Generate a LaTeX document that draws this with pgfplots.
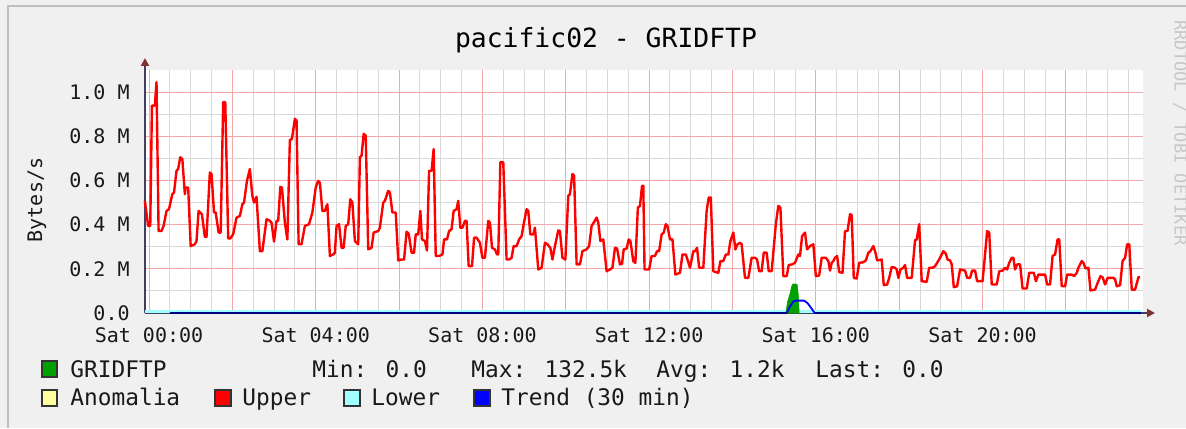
\documentclass[border=0pt]{standalone}
\usepackage{fontspec}
\setmainfont{DejaVu Sans Mono}
\usepackage{pgfplots}
\pgfplotsset{compat=1.18}
\usetikzlibrary{arrows.meta}
\definecolor{bgc}{HTML}{F0F0F0}
\definecolor{mgrid}{HTML}{F2A8A8}
\definecolor{ngrid}{HTML}{D8D8D8}
\definecolor{gft}{HTML}{00A000}
\definecolor{anom}{HTML}{FFFFA0}
\definecolor{lowc}{HTML}{A0FFFF}
\definecolor{trendc}{HTML}{0000FF}
\definecolor{upc}{HTML}{FF0000}
\definecolor{axc}{HTML}{404060}
\definecolor{arrc}{HTML}{803030}
\begin{document}
\begin{tikzpicture}
\begin{scope}[x=0.5pt,y=0.5pt]
\fill[bgc] (0,0) rectangle (1186,428);
\useasboundingbox (0,0) rectangle (1186,428);
\draw[line width=1pt, color=black!25] (8,0) -- (8,422) -- (1186,422);
\node[font=\fontsize{13.2}{16}\selectfont, text=black] at (606,388) {pacific02 - GRIDFTP};
\node[font=\fontsize{10}{12}\selectfont, rotate=90, text=black!90] at (37,228) {Bytes/s};
\node[font=\fontsize{8.5}{10}\selectfont, rotate=-90, text=black!22] at (1180,295) {RRDTOOL / TOBI OETIKER};
\end{scope}
\begin{axis}[
  at={(72.5pt,57.5pt)}, anchor=south west,
  scale only axis, width=499pt, height=121.5pt,
  xmin=-0.096, xmax=23.85, ymin=0, ymax=1.1,
  clip=false,
  axis background/.style={fill=white},
  axis lines=left,
  axis line style={draw=axc, line width=1pt, shorten >=-6pt, -{Triangle[length=4pt,width=4pt,color=arrc]}},
  xtick={0,2,...,22},
  xticklabels={Sat 00:00,,Sat 04:00,,Sat 08:00,,Sat 12:00,,Sat 16:00,,Sat 20:00,},
  minor xtick={0.5,1,...,23.5},
  ytick={0,0.2,0.4,0.6,0.8,1.0},
  yticklabels={0.0,0.2 M,0.4 M,0.6 M,0.8 M,1.0 M},
  minor ytick={0.1,0.3,0.5,0.7,0.9},
  grid=both,
  major grid style={draw=mgrid, line width=0.5pt},
  minor grid style={draw=ngrid, line width=0.5pt},
  major tick length=0pt, minor tick length=0pt,
  tick label style={font=\fontsize{10}{12}\selectfont, text=black!90},
  yticklabel style={anchor=east, inner sep=0pt, xshift=-7.5pt},
  xticklabel style={anchor=north, inner sep=0pt, yshift=-7pt},
]
% Lower
\addplot[lowc, line width=1.2pt] coordinates {(-0.096,0.006) (23.8,0.006)};
% GRIDFTP
\addplot[fill=gft, draw=gft, line width=0.3pt] coordinates {
(15.28,0) (15.32,0.05) (15.37,0.08) (15.42,0.12) (15.45,0.132) (15.55,0.13) (15.58,0.08) (15.60,0)
} \closedcycle;
% Trend
\addplot[trendc, line width=0.9pt] coordinates {
(0.5,0) (15.30,0) (15.38,0.03) (15.46,0.052) (15.52,0.056) (15.72,0.056) (15.80,0.045) (15.90,0.02) (15.97,0) (23.8,0)
};
\addplot[blue!50!black, line width=0.6pt] coordinates {(0.5,0) (15.30,0)};
\addplot[blue!50!black, line width=0.6pt] coordinates {(15.97,0) (23.8,0)};
% Upper
\addplot[upc, line width=1.2pt, line join=round] coordinates {
(-0.10,0.508) (-0.02,0.394) (0.03,0.394) (0.07,0.939) (0.14,0.939) (0.18,1.045) (0.23,0.371) (0.30,0.371) (0.35,0.394) (0.42,0.462) (0.48,0.470) (0.56,0.538) (0.60,0.545) (0.66,0.644) (0.70,0.652) (0.75,0.705) (0.80,0.697) (0.86,0.538) (0.88,0.568) (0.94,0.568) (1.00,0.303) (1.10,0.311) (1.14,0.326) (1.19,0.462) (1.27,0.447) (1.34,0.344) (1.38,0.344) (1.46,0.636) (1.50,0.629) (1.56,0.455) (1.60,0.455) (1.67,0.364) (1.72,0.364) (1.78,0.955) (1.83,0.955) (1.90,0.338) (1.95,0.338) (2.02,0.356) (2.10,0.432) (2.18,0.439) (2.24,0.492) (2.28,0.500) (2.35,0.598) (2.42,0.652) (2.48,0.530) (2.52,0.500) (2.58,0.526) (2.66,0.280) (2.72,0.280) (2.82,0.424) (2.88,0.420) (2.94,0.409) (3.00,0.323) (3.06,0.417) (3.10,0.417) (3.15,0.571) (3.19,0.568) (3.26,0.409) (3.32,0.333) (3.38,0.783) (3.43,0.788) (3.50,0.879) (3.54,0.871) (3.59,0.311) (3.66,0.311) (3.74,0.394) (3.84,0.402) (3.92,0.455)
(4.00,0.568) (4.06,0.598) (4.10,0.590) (4.16,0.462) (4.22,0.462) (4.26,0.485) (4.28,0.492) (4.34,0.258) (4.42,0.265) (4.46,0.273) (4.50,0.394) (4.56,0.402) (4.62,0.295) (4.67,0.295) (4.72,0.394) (4.78,0.402) (4.83,0.515) (4.88,0.500) (4.94,0.326) (5.02,0.311) (5.06,0.705) (5.10,0.712) (5.15,0.811) (5.20,0.803) (5.26,0.288) (5.34,0.295) (5.39,0.364) (5.50,0.371) (5.54,0.386) (5.62,0.500) (5.66,0.508) (5.74,0.553) (5.78,0.545) (5.84,0.455) (5.92,0.455) (5.98,0.238) (6.06,0.242) (6.12,0.242) (6.18,0.368) (6.23,0.359) (6.30,0.273) (6.36,0.273) (6.40,0.356) (6.46,0.356) (6.51,0.462) (6.55,0.333) (6.62,0.326) (6.67,0.283) (6.72,0.644) (6.78,0.644) (6.83,0.742) (6.88,0.258) (6.96,0.258) (7.04,0.265) (7.08,0.333) (7.15,0.333) (7.20,0.371) (7.26,0.379) (7.31,0.462) (7.38,0.470) (7.42,0.508) (7.47,0.386) (7.52,0.386) (7.58,0.417) (7.62,0.417) (7.67,0.212) (7.75,0.212) (7.80,0.341) (7.86,0.341) (7.94,0.318)
(8.00,0.250) (8.06,0.250) (8.14,0.417) (8.18,0.409) (8.23,0.295) (8.30,0.288) (8.35,0.265) (8.38,0.265) (8.43,0.682) (8.50,0.682) (8.58,0.242) (8.64,0.242) (8.70,0.250) (8.75,0.303) (8.82,0.303) (8.88,0.333) (8.94,0.348) (8.99,0.402) (9.06,0.470) (9.10,0.462) (9.15,0.356) (9.22,0.356) (9.26,0.386) (9.34,0.197) (9.42,0.205) (9.50,0.318) (9.56,0.311) (9.63,0.295) (9.68,0.242) (9.74,0.303) (9.82,0.374) (9.86,0.371) (9.92,0.250) (9.99,0.242) (10.06,0.530) (10.10,0.538) (10.16,0.629) (10.20,0.621) (10.26,0.220) (10.34,0.220) (10.40,0.280) (10.50,0.288) (10.56,0.303) (10.62,0.394) (10.67,0.409) (10.74,0.432) (10.78,0.409) (10.83,0.326) (10.90,0.333) (10.98,0.189) (11.06,0.197) (11.12,0.205) (11.18,0.295) (11.23,0.292) (11.30,0.220) (11.35,0.223) (11.39,0.288) (11.46,0.292) (11.51,0.333) (11.55,0.326) (11.62,0.235) (11.67,0.227) (11.73,0.477) (11.78,0.485) (11.83,0.576) (11.86,0.576) (11.89,0.197)
(12.00,0.197) (12.06,0.258) (12.14,0.258) (12.19,0.280) (12.24,0.280) (12.30,0.356) (12.35,0.364) (12.40,0.402) (12.44,0.394) (12.50,0.333) (12.56,0.333) (12.63,0.174) (12.74,0.182) (12.80,0.265) (12.88,0.265) (12.92,0.242) (12.98,0.205) (13.06,0.280) (13.10,0.280) (13.15,0.295) (13.20,0.205) (13.30,0.205) (13.38,0.462) (13.43,0.523) (13.48,0.523) (13.54,0.189) (13.66,0.182) (13.71,0.235) (13.78,0.235) (13.84,0.265) (13.90,0.265) (13.95,0.326) (14.02,0.364) (14.07,0.288) (14.12,0.311) (14.18,0.318) (14.22,0.311) (14.30,0.159) (14.38,0.159) (14.46,0.250) (14.54,0.250) (14.59,0.242) (14.64,0.189) (14.70,0.189) (14.75,0.273) (14.82,0.273) (14.87,0.189) (14.94,0.189) (15.04,0.402) (15.10,0.485) (15.15,0.477) (15.22,0.167) (15.30,0.167) (15.35,0.217) (15.43,0.220) (15.50,0.227) (15.58,0.265) (15.62,0.258) (15.67,0.348) (15.74,0.364) (15.79,0.288) (15.86,0.303) (15.94,0.311)
(16.00,0.167) (16.08,0.170) (16.14,0.250) (16.24,0.250) (16.30,0.235) (16.34,0.192) (16.38,0.227) (16.42,0.235) (16.46,0.250) (16.51,0.258) (16.56,0.185) (16.64,0.182) (16.70,0.371) (16.76,0.371) (16.82,0.447) (16.86,0.444) (16.91,0.159) (16.98,0.156) (17.04,0.227) (17.14,0.230) (17.20,0.238) (17.26,0.273) (17.31,0.280) (17.38,0.303) (17.43,0.273) (17.47,0.238) (17.58,0.242) (17.63,0.126) (17.71,0.129) (17.76,0.159) (17.82,0.208) (17.90,0.205) (17.94,0.197) (17.98,0.159) (18.03,0.197) (18.10,0.205) (18.14,0.217) (18.19,0.159) (18.30,0.159) (18.38,0.329) (18.42,0.333) (18.48,0.402) (18.54,0.144) (18.66,0.141) (18.72,0.205) (18.80,0.205) (18.86,0.212) (18.91,0.227) (18.98,0.250) (19.06,0.280) (19.12,0.268) (19.16,0.242) (19.22,0.238) (19.26,0.220) (19.31,0.117) (19.39,0.121) (19.46,0.197) (19.58,0.192) (19.63,0.159) (19.70,0.159) (19.75,0.192) (19.82,0.192) (19.87,0.144) (19.92,0.144)
(20.00,0.144) (20.06,0.265) (20.11,0.371) (20.16,0.364) (20.22,0.129) (20.34,0.129) (20.40,0.189) (20.48,0.192) (20.54,0.205) (20.59,0.197) (20.64,0.227) (20.70,0.250) (20.74,0.250) (20.78,0.197) (20.83,0.220) (20.90,0.220) (20.96,0.111) (21.06,0.111) (21.12,0.182) (21.23,0.182) (21.28,0.144) (21.34,0.174) (21.50,0.174) (21.55,0.129) (21.62,0.129) (21.68,0.258) (21.74,0.265) (21.80,0.333) (21.84,0.333) (21.90,0.121) (21.98,0.121) (22.03,0.174) (22.14,0.174) (22.20,0.167) (22.26,0.182) (22.30,0.205) (22.38,0.235) (22.42,0.227) (22.47,0.202) (22.54,0.205) (22.59,0.102) (22.70,0.106) (22.76,0.136) (22.83,0.167) (22.88,0.162) (22.94,0.129) (23.00,0.159) (23.14,0.159) (23.18,0.152) (23.22,0.121) (23.30,0.126) (23.36,0.235) (23.42,0.250) (23.47,0.311) (23.52,0.311) (23.58,0.106) (23.66,0.106) (23.74,0.162) (23.78,0.162)
};
\end{axis}
\begin{scope}[x=0.5pt,y=0.5pt]
\tikzset{lbox/.style={draw=black!80, line width=0.6pt}, ltxt/.style={anchor=base west, inner sep=0pt, font=\fontsize{11.4}{13}\selectfont, text=black!90}}
\draw[lbox, fill=gft] (42,51) rectangle (57,67);
\node[ltxt] at (70,51) {GRIDFTP};
\node[ltxt] at (312,51) {Min: 0.0};
\node[ltxt] at (471,51) {Max: 132.5k};
\node[ltxt] at (656,51) {Avg: 1.2k};
\node[ltxt] at (815,51) {Last: 0.0};
\draw[lbox, fill=anom] (42,22) rectangle (57,38);
\node[ltxt] at (70,23) {Anomalia};
\draw[lbox, fill=upc] (215,22) rectangle (231,38);
\node[ltxt] at (242,23) {Upper};
\draw[lbox, fill=lowc] (344,22) rectangle (360,38);
\node[ltxt] at (371,23) {Lower};
\draw[lbox, fill=trendc] (474,22) rectangle (490,38);
\node[ltxt] at (501,23) {Trend (30 min)};
\end{scope}
\end{tikzpicture}
\end{document}
